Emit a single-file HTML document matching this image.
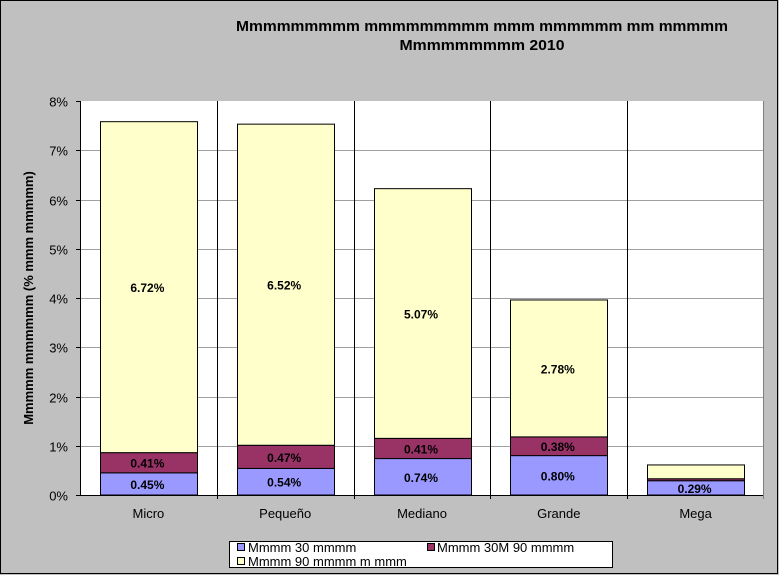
<!DOCTYPE html>
<html><head><meta charset="utf-8"><style>
body{margin:0;background:#c0c0c0}
svg{display:block;font-family:"Liberation Sans",Arial,sans-serif}
</style></head><body>
<svg id="c" width="779" height="575">
<rect x="0.5" y="0.5" width="777" height="573" fill="#c0c0c0" stroke="#000"/>
<text x="482" y="31" text-anchor="middle" font-weight="bold" font-size="15" textLength="492" lengthAdjust="spacingAndGlyphs">Mmmmmmmmm mmmmmmmmm mmm mmmmmm mm mmmmm</text>
<text x="482" y="50" text-anchor="middle" font-weight="bold" font-size="15" textLength="165" lengthAdjust="spacingAndGlyphs">Mmmmmmmmm 2010</text>
<rect x="80" y="101" width="684" height="394" fill="#fff"/>
<g id="grid"></g><g id="bars"></g><g id="axes"></g>
<text transform="translate(33,298) rotate(-90)" text-anchor="middle" font-weight="bold" font-size="13">Mmmmm mmmmmm (% mmm mmmmm)</text>
<rect x="229.5" y="541.5" width="383" height="26" fill="#fff" stroke="#000"/>
<g><rect x="237.5" y="543.5" width="7" height="7" fill="#9999ff" stroke="#000"/><text x="248" y="552" font-size="13">Mmmm 30 mmmm</text></g>
<g><rect x="427.5" y="543.5" width="7" height="7" fill="#993366" stroke="#000"/><text x="437" y="552" font-size="13">Mmmm 30M 90 mmmm</text></g>
<g><rect x="237.5" y="557.5" width="7" height="7" fill="#ffffcc" stroke="#000"/><text x="248" y="566" font-size="13">Mmmm 90 mmmm m mmm</text></g>
</svg>
<script>
const categories=["Micro","Pequeño","Mediano","Grande","Mega"];
const s1=[0.45,0.54,0.74,0.80,0.29];
const s2=[0.41,0.47,0.41,0.38,0.04];
const s3=[6.72,6.52,5.07,2.78,0.28];
const yTicks=["0%","1%","2%","3%","4%","5%","6%","7%","8%"];
const NS="http://www.w3.org/2000/svg";
const L=80,R=764,T=101,B=495,yMax=8;
const y=v=>B-(v/yMax)*(B-T);
const cw=(R-L)/categories.length;
const xc=i=>L+cw*(i+0.5);
function mk(tag,attrs,parent,txt){const e=document.createElementNS(NS,tag);for(const k in attrs)e.setAttribute(k,attrs[k]);if(txt!=null)e.textContent=txt;document.getElementById(parent).appendChild(e);return e;}
yTicks.forEach((t,i)=>{
  const yy=Math.round(y(i))+0.5;
  if(i>0&&i<yTicks.length-1){const g=mk('line',{x1:L,x2:R,y1:yy,y2:yy,stroke:'#a0a0a0'},'grid');}
  const tk=mk('line',{x1:L-4,x2:L,y1:yy,y2:yy,stroke:'#000'},'axes');
  const lb=mk('text',{x:L-12,y:yy+5,'text-anchor':'end','font-size':'13'},'axes',t);
  
  
});
for(let i=1;i<categories.length;i++){const xx=Math.round(L+cw*i)+0.5;const v=mk('line',{x1:xx,x2:xx,y1:T,y2:B+4,stroke:'#000'},'grid');}
const bw=97;
const series=[[s1,'#9999ff'],[s2,'#993366'],[s3,'#ffffcc']];
categories.forEach((c,i)=>{
  let base=0;
  series.forEach(([arr,col],k)=>{
    const v=arr[i];const y0=y(base),y1=y(base+v);
    const r=mk('rect',{x:Math.round(xc(i)-bw/2)+0.5,y:y1,width:bw,height:y0-y1,fill:col,stroke:'#000'},'bars');
    
    
    if(v>=0.29){
      const tx=mk('text',{x:xc(i)-1,y:(y0+y1)/2+5,'text-anchor':'middle','font-size':'12','font-weight':'bold'},'bars',v.toFixed(2)+'%');
      
      
    }
    base+=v;
  });
  const cl=mk('text',{x:xc(i),y:518,'text-anchor':'middle','font-size':'13'},'axes',c);
  
  
});
const ya=mk('line',{x1:L+0.5,x2:L+0.5,y1:T,y2:B,stroke:'#000'},'axes');
const xa=mk('line',{x1:L,x2:R,y1:B+0.5,y2:B+0.5,stroke:'#000'},'axes');
const xe=mk('line',{x1:R-0.5,x2:R-0.5,y1:T,y2:B+4,stroke:'#808080'},'axes');
</script>
</body></html>
